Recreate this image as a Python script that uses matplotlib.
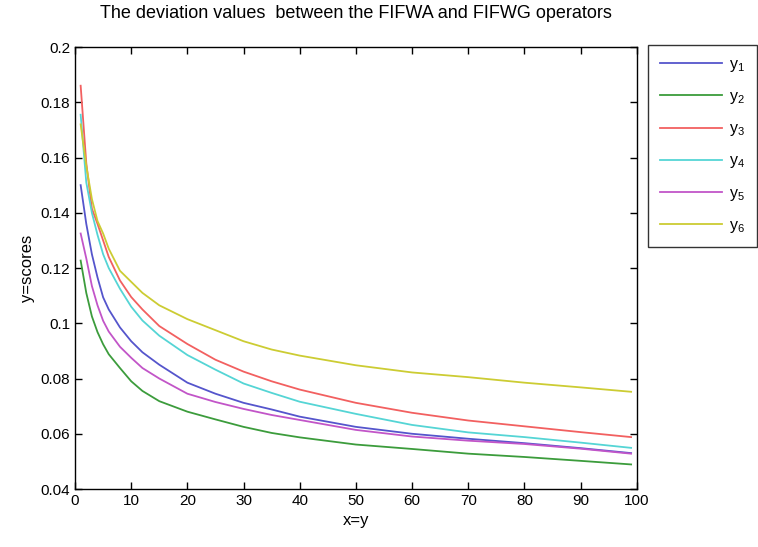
import matplotlib
matplotlib.use("Agg")
import matplotlib.pyplot as plt

plt.rcParams['font.family'] = ['Liberation Sans', 'DejaVu Sans']

# values
x = [1, 2, 3, 4, 5, 6, 8, 10, 12, 15, 20, 25, 30, 35, 40, 50, 60, 70, 80, 90, 99]

y1 = [0.150, 0.136, 0.125, 0.1166, 0.1094, 0.105, 0.0985, 0.0935, 0.0895, 0.0850, 0.0785,
      0.0745, 0.0712, 0.0688, 0.0662, 0.0625, 0.0600, 0.0582, 0.0566, 0.0548, 0.0530]
y2 = [0.1227, 0.111, 0.1025, 0.0968, 0.0924, 0.0888, 0.0838, 0.0790, 0.0755, 0.0718, 0.0680,
      0.0652, 0.0625, 0.0603, 0.0587, 0.0561, 0.0545, 0.0528, 0.0516, 0.0502, 0.0489]
y3 = [0.186, 0.158, 0.1415, 0.136, 0.130, 0.124, 0.1155, 0.1095, 0.105, 0.099, 0.0925,
      0.0868, 0.0825, 0.0790, 0.0760, 0.0712, 0.0676, 0.0648, 0.0627, 0.0606, 0.0588]
y4 = [0.1755, 0.151, 0.140, 0.132, 0.125, 0.120, 0.1125, 0.106, 0.101, 0.0955, 0.0885,
      0.0832, 0.0782, 0.0748, 0.0716, 0.0672, 0.0632, 0.0605, 0.0588, 0.0568, 0.0549]
y5 = [0.1325, 0.1235, 0.1135, 0.1065, 0.1009, 0.097, 0.0915, 0.0875, 0.0838, 0.0800, 0.0745,
      0.0715, 0.0690, 0.0668, 0.0650, 0.0614, 0.0590, 0.0575, 0.0563, 0.0546, 0.0528]
y6 = [0.172, 0.157, 0.145, 0.137, 0.1325, 0.127, 0.119, 0.115, 0.111, 0.1065, 0.1015,
      0.0975, 0.0935, 0.0905, 0.0883, 0.0848, 0.0822, 0.0805, 0.0785, 0.0768, 0.0752]

series = [y1, y2, y3, y4, y5, y6]
labels = [r'$\mathregular{y_%d}$' % i for i in range(1, 7)]
colors = ['#5555cc', '#3c9c3c', '#f26060', '#55d5d5', '#c255c8', '#cccc33']

fig = plt.figure(figsize=(7.58, 5.47), dpi=100)
ax = fig.add_axes([0.099, 0.106, 0.741, 0.808])

for ys, lab, c in zip(series, labels, colors):
    ax.plot(x, ys, color=c, lw=1.3, label=lab)

ax.set_xlim(0, 100)
ax.set_ylim(0.04, 0.2)
ax.set_xticks(range(0, 101, 10))
ax.set_yticks([0.04, 0.06, 0.08, 0.1, 0.12, 0.14, 0.16, 0.18, 0.2])
ax.set_yticklabels(['0.04', '0.06', '0.08', '0.1', '0.12', '0.14', '0.16', '0.18', '0.2'])
ax.tick_params(direction='in', top=True, right=True, labelsize=11, length=5, width=1)
for s in ax.spines.values():
    s.set_linewidth(1)

ax.set_xlabel('x=y', fontsize=12)
ax.set_ylabel('y=scores', fontsize=12)
ax.set_title('The deviation values  between the FIFWA and FIFWG operators', fontsize=13, pad=21)

leg = ax.legend(loc='upper left', bbox_to_anchor=(1.02, 1.005), frameon=True, fancybox=False,
                edgecolor='black', fontsize=11.5, handlelength=3.9, labelspacing=0.95,
                borderpad=0.75, handletextpad=0.45, borderaxespad=0)
leg.get_frame().set_linewidth(1)

plt.savefig('out.png', dpi=100)
